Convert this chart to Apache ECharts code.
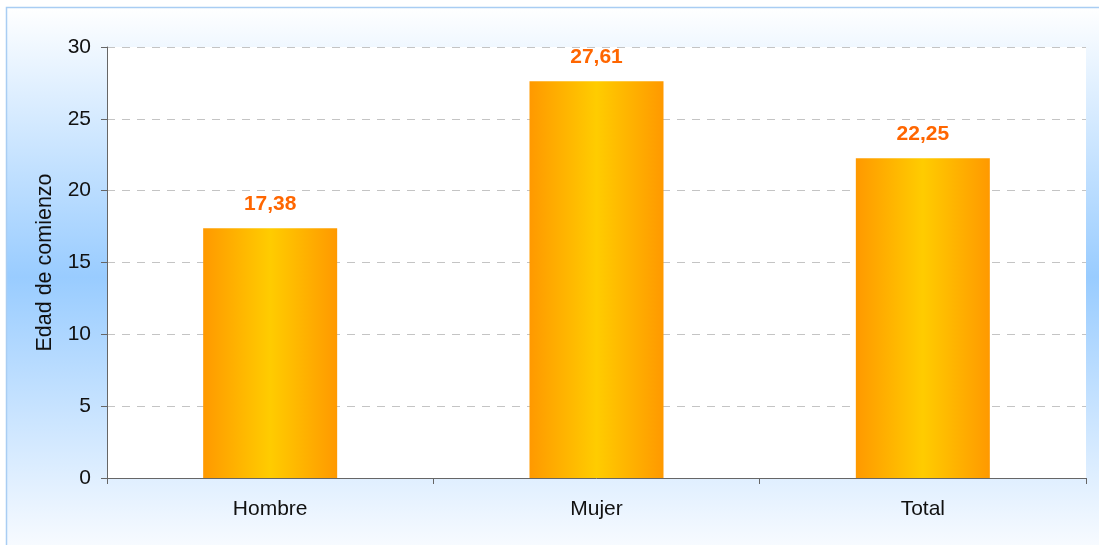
<!DOCTYPE html>
<html>
<head>
<meta charset="utf-8">
<script src="https://cdn.jsdelivr.net/npm/echarts@6/dist/echarts.min.js"></script>
<style>
html, body { margin: 0; padding: 0; background: #fff; }
#chart { width: 1099px; height: 545px; }
</style>
</head>
<body>
<div id="chart"></div>
<script>
var categories = ['Hombre', 'Mujer', 'Total'];
var edadValues = [17.38, 27.61, 22.25];
var yTicks = { min: 0, max: 30, interval: 5 };

var font = 'Liberation Sans, Arial, sans-serif';

var option = {
    backgroundColor: '#ffffff',
    animation: false,
    graphic: [{
        type: 'rect',
        z: -10,
        shape: { x: 6.5, y: 7.5, width: 1200, height: 600 },
        style: {
            fill: {
                type: 'linear', x: 0, y: 0, x2: 0, y2: 1, global: false,
                colorStops: [
                    { offset: 0, color: '#ffffff' },
                    { offset: 0.45, color: '#99ccff' },
                    { offset: 0.9, color: '#f8fbff' },
                    { offset: 1, color: '#ffffff' }
                ]
            },
            stroke: '#a9cdf3',
            lineWidth: 1.5
        }
    }],
    grid: {
        left: 107, right: 13, top: 47, bottom: 67,
        show: true, backgroundColor: '#ffffff', borderWidth: 0
    },
    xAxis: {
        type: 'category',
        data: categories,
        axisLine: { lineStyle: { color: '#666666', width: 1 } },
        axisTick: { show: true, length: 6, alignWithLabel: false, lineStyle: { color: '#666666' } },
        axisLabel: { color: '#111111', fontSize: 21, fontFamily: font, margin: 21 }
    },
    yAxis: {
        type: 'value',
        min: yTicks.min, max: yTicks.max, interval: yTicks.interval,
        name: 'Edad de comienzo',
        nameLocation: 'middle',
        nameRotate: 90,
        nameGap: 51,
        nameTextStyle: { color: '#111111', fontSize: 21.5, fontFamily: font },
        axisLine: { show: true, lineStyle: { color: '#666666', width: 1 } },
        axisTick: { show: true, length: 6, lineStyle: { color: '#666666' } },
        axisLabel: { color: '#111111', fontSize: 21, fontFamily: font, margin: 16 },
        splitLine: { lineStyle: { color: '#c4c4c4', type: [8, 7], width: 1 } }
    },
    series: [{
        type: 'bar',
        data: edadValues,
        barWidth: 134,
        itemStyle: {
            color: {
                type: 'linear', x: 0, y: 0, x2: 1, y2: 0,
                colorStops: [
                    { offset: 0, color: '#ff9900' },
                    { offset: 0.5, color: '#ffcc00' },
                    { offset: 1, color: '#ff9900' }
                ]
            }
        },
        label: {
            show: true,
            position: 'top',
            distance: 14,
            color: '#ff6600',
            fontWeight: 'bold',
            fontSize: 21,
            fontFamily: font,
            formatter: function (p) { return p.value.toFixed(2).replace('.', ','); }
        }
    }]
};

var myChart = echarts.init(document.getElementById('chart'));
myChart.setOption(option);
</script>
</body>
</html>
